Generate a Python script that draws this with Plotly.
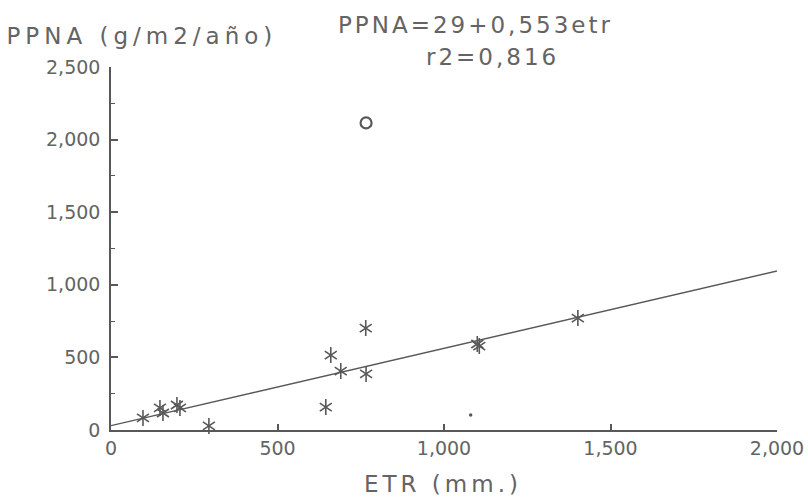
import plotly.graph_objects as go

# Data
etr_ast = [96, 147, 156, 198, 207, 294, 645, 660, 690, 765, 766, 1100, 1106, 1402]
ppna_ast = [83, 152, 117, 172, 152, 28, 158, 516, 406, 702, 386, 592, 578, 771]
etr_circle = [766]
ppna_circle = [2115]
etr_dot = [1080]
ppna_dot = [103]
line_etr = [0, 2000]
line_ppna = [30, 1095]
x_ticks = [0, 500, 1000, 1500, 2000]
x_ticklabels = ["0", "500", "1,000", "1,500", "2,000"]
y_ticks = [0, 500, 1000, 1500, 2000, 2500]
y_ticklabels = ["0", "500", "1,000", "1,500", "2,000", "2,500"]

INK = "#585858"
TXT = "#646464"
FONT = "DejaVu Sans"

fig = go.Figure()
fig.add_trace(go.Scatter(x=line_etr, y=line_ppna, mode="lines",
                         line=dict(color=INK, width=1.4), cliponaxis=False,
                         showlegend=False, hoverinfo="skip"))
for sym in ["y-up-open", "y-down-open"]:
    fig.add_trace(go.Scatter(x=etr_ast, y=ppna_ast, mode="markers", cliponaxis=False,
                             marker=dict(symbol=sym, size=10, color=INK,
                                         line=dict(color=INK, width=1.6)),
                             showlegend=False))
fig.add_trace(go.Scatter(x=etr_circle, y=ppna_circle, mode="markers", cliponaxis=False,
                         marker=dict(symbol="circle-open", size=11, color=INK,
                                     line=dict(color=INK, width=2.2)),
                         showlegend=False))
fig.add_trace(go.Scatter(x=etr_dot, y=ppna_dot, mode="markers", cliponaxis=False,
                         marker=dict(symbol="circle", size=3.5, color=INK),
                         showlegend=False))

fig.update_layout(
    width=808, height=500,
    margin=dict(l=111, r=31, t=67, b=70, autoexpand=False),
    plot_bgcolor="white", paper_bgcolor="white",
    font=dict(family=FONT, color=TXT, size=19),
    xaxis=dict(range=[0, 2000], showgrid=False, zeroline=False, automargin=False,
               showline=True, linecolor=INK, linewidth=1.5,
               ticks="inside", ticklen=6, tickwidth=1.5, tickcolor=INK,
               tickvals=x_ticks, ticktext=x_ticklabels, ticklabelstandoff=0,
               tickfont=dict(size=19, color=TXT)),
    yaxis=dict(range=[0, 2500], showgrid=False, zeroline=False, automargin=False,
               showline=True, linecolor=INK, linewidth=1.5,
               ticks="inside", ticklen=7, tickwidth=1.5, tickcolor=INK,
               tickvals=y_ticks, ticktext=y_ticklabels, ticklabelstandoff=5,
               tickfont=dict(size=19, color=TXT),
               minor=dict(ticks="inside", ticklen=4, tickwidth=1.2, tickcolor=INK, dtick=250, tick0=0)),
)

# text centres in paper coordinates (plot area: x 111..777 px, y 67..430 px)
fig.add_annotation(text="PPNA (g/m2/año)", xref="paper", yref="paper",
                   x=(142 - 111) / 666, y=(430 - 36) / 363, xanchor="center", yanchor="middle",
                   showarrow=False, font=dict(size=23, color=TXT, family=FONT))
fig.add_annotation(text="PPNA=29+0,553etr", xref="paper", yref="paper",
                   x=(476 - 111) / 666, y=(430 - 25) / 363, xanchor="center", yanchor="middle",
                   showarrow=False, font=dict(size=23, color=TXT, family=FONT))
fig.add_annotation(text="r2=0,816", xref="paper", yref="paper",
                   x=(493 - 111) / 666, y=(430 - 57) / 363, xanchor="center", yanchor="middle",
                   showarrow=False, font=dict(size=23, color=TXT, family=FONT))
fig.add_annotation(text="ETR (mm.)", xref="paper", yref="paper",
                   x=(443 - 111) / 666, y=(430 - 484) / 363, xanchor="center", yanchor="middle",
                   showarrow=False, font=dict(size=23, color=TXT, family=FONT))

# page without body margin; widen the title lettering like the plotter font of the original
post = """
document.body.style.margin = '0';
var sp = ['5px', '3px', '3px', '4px'];
document.querySelectorAll('.annotation-text').forEach(function(t, i){
  t.style.letterSpacing = sp[i] || '3px';
});
"""
fig.write_html("out.html", post_script=post, config={"displayModeBar": False})
